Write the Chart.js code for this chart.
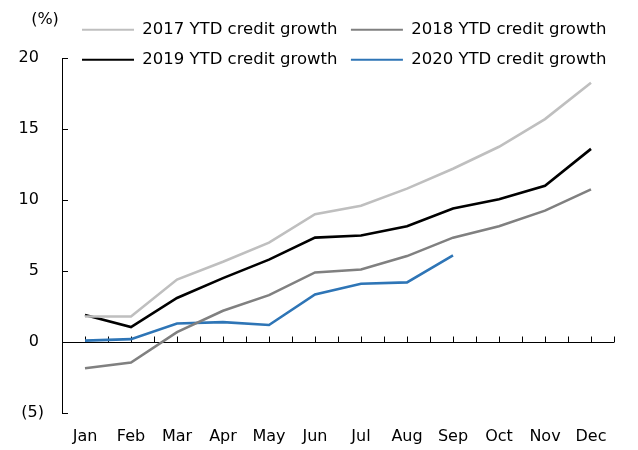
<!DOCTYPE html>
<html>
<head>
<meta charset="utf-8">
<script src="https://cdn.jsdelivr.net/npm/chart.js@4.4.0/dist/chart.umd.min.js"></script>
<style>
    html, body { margin: 0; padding: 0; background: #fff; }
    #wrap { width: 638px; height: 450px; }
</style>
</head>
<body>
<div id="wrap"><canvas id="credit_growth"></canvas></div>
<script>
var months = ["Jan", "Feb", "Mar", "Apr", "May", "Jun", "Jul", "Aug", "Sep", "Oct", "Nov", "Dec"];
var seriesNames = ["2017 YTD credit growth", "2018 YTD credit growth", "2019 YTD credit growth", "2020 YTD credit growth"];
var growth2017 = [1.8, 1.8, 4.4, 5.65, 7.0, 9.0, 9.6, 10.8, 12.2, 13.75, 15.7, 18.25];
var growth2018 = [-1.85, -1.45, 0.7, 2.2, 3.3, 4.9, 5.1, 6.05, 7.35, 8.15, 9.25, 10.75];
var growth2019 = [1.9, 1.05, 3.1, 4.5, 5.8, 7.35, 7.5, 8.15, 9.4, 10.05, 11.0, 13.6];
var growth2020 = [0.1, 0.2, 1.3, 1.4, 1.2, 3.35, 4.1, 4.2, 6.1];
var yMin = -5, yMax = 20, yStep = 5;

Chart.defaults.font.family = "'DejaVu Sans', Verdana, sans-serif";
Chart.defaults.font.size = 16;
Chart.defaults.color = '#000';

// short tick marks: inward on the y axis, upward along the zero line
var axisTicks = {
    id: 'axisTicks',
    afterLayout: function (chart) {
        // legend overlaps the top of the plot, starting near the y axis
        var legend = chart.legend;
        var shift = 68.5 - legend.left;
        legend.left += shift;
        legend.right += shift;
        legend.bottom = legend.top + 75;
        legend.height = 75;
    },
    beforeDatasetsDraw: function (chart) {
        var ctx = chart.ctx, x = chart.scales.x, y = chart.scales.y;
        var zeroY = Math.round(y.getPixelForValue(0)) + 0.5;
        ctx.save();
        ctx.strokeStyle = '#000';
        ctx.lineWidth = 1;
        ctx.beginPath();
        y.ticks.forEach(function (t) {
            var py = Math.round(y.getPixelForValue(t.value)) + 0.5;
            ctx.moveTo(y.right, py);
            ctx.lineTo(y.right + 6, py);
        });
        for (var i = 0; i < months.length; i++) {
            [i, i + 0.5].forEach(function (v) {
                var px = Math.round(x.getPixelForValue(v)) + 0.5;
                ctx.moveTo(px, zeroY);
                ctx.lineTo(px, zeroY - 6);
            });
        }
        ctx.stroke();
        ctx.restore();
    },
    afterDraw: function (chart) {
        var ctx = chart.ctx;
        ctx.save();
        ctx.font = "16px 'DejaVu Sans', Verdana, sans-serif";
        ctx.fillStyle = '#000';
        ctx.textAlign = 'center';
        ctx.textBaseline = 'middle';
        ctx.fillText('(%)', 45, 20);
        ctx.restore();
    }
};

var growthChart = new Chart(document.getElementById('credit_growth'), {
    type: 'line',
    data: {
        labels: months,
        datasets: [{
            label: seriesNames[0],
            data: growth2017,
            borderColor: '#bfbfbf',
            backgroundColor: '#bfbfbf'
        }, {
            label: seriesNames[1],
            data: growth2018,
            borderColor: '#808080',
            backgroundColor: '#808080'
        }, {
            label: seriesNames[2],
            data: growth2019,
            borderColor: '#000000',
            backgroundColor: '#000000'
        }, {
            label: seriesNames[3],
            data: growth2020,
            borderColor: '#2e75b6',
            backgroundColor: '#2e75b6'
        }]
    },
    options: {
        responsive: true,
        maintainAspectRatio: false,
        animation: false,
        elements: {
            line: { borderWidth: 2.6, tension: 0, fill: false },
            point: { radius: 0, hoverRadius: 0 }
        },
        layout: {
            padding: { top: 8, right: 24, bottom: 0, left: 0 }
        },
        plugins: {
            tooltip: { enabled: false },
            legend: {
                display: true,
                position: 'top',
                align: 'start',
                maxHeight: 50,
                labels: {
                    boxWidth: 52,
                    boxHeight: 2,
                    padding: 13.5,
                    font: { size: 16.5 },
                    generateLabels: function (chart) {
                        return Chart.defaults.plugins.legend.labels.generateLabels(chart).map(function (item) {
                            item.fillStyle = item.strokeStyle;
                            item.lineWidth = 0;
                            return item;
                        });
                    }
                }
            }
        },
        scales: {
            x: {
                type: 'category',
                offset: true,
                grid: { display: false, drawTicks: false },
                border: { display: false },
                ticks: { padding: 14, maxRotation: 0, autoSkip: false },
                afterFit: function (scale) { scale.height = 37; }
            },
            y: {
                min: yMin,
                max: yMax,
                border: { display: true, color: '#000', width: 1 },
                grid: {
                    drawTicks: false,
                    color: function (c) { return c.tick && c.tick.value === 0 ? '#000' : 'rgba(0,0,0,0)'; }
                },
                ticks: {
                    stepSize: yStep,
                    padding: 18,
                    callback: function (v) { return v < 0 ? '(' + Math.abs(v) + ')' : v + ' '; }
                },
                afterFit: function (scale) { scale.width = 62; }
            }
        }
    },
    plugins: [axisTicks]
});
</script>
</body>
</html>
